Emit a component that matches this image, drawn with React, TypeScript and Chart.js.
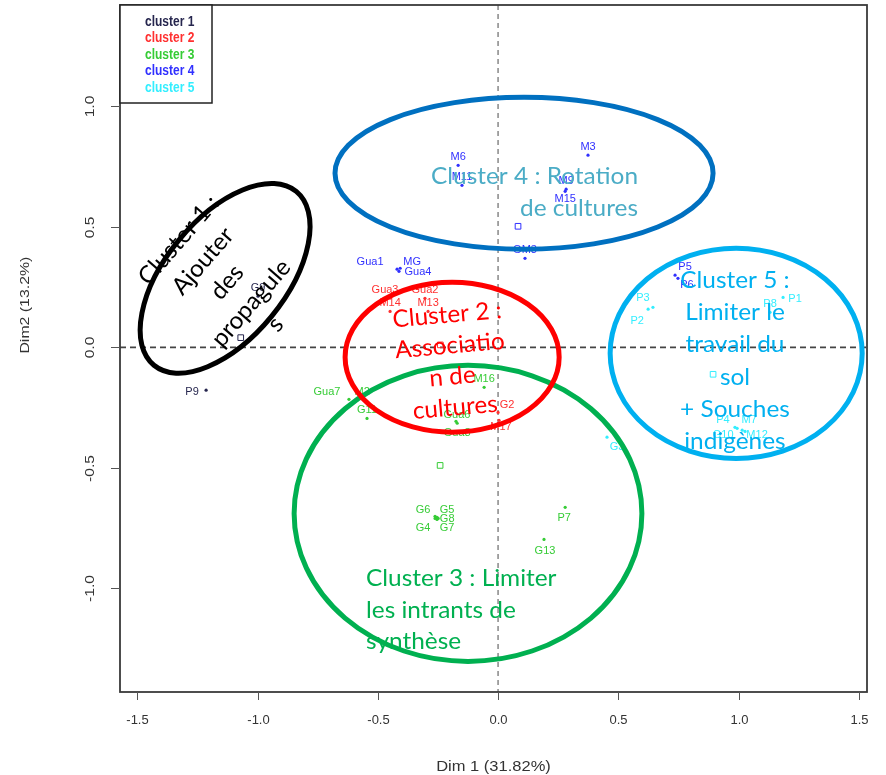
import React, { useEffect, useRef } from "react";
import { Chart, registerables } from "chart.js";

Chart.register(...registerables);

// ---------------- data ----------------
const CLUSTER_NAMES = ["cluster 1", "cluster 2", "cluster 3", "cluster 4", "cluster 5"];
const CLUSTER_COLORS = ["#26264e", "#ff3030", "#36cc36", "#3030ff", "#33eeff"];

const C1_LABELS = ["P9", "G9"];
const C1_X = [-1.214, -0.998];
const C1_Y = [-0.178, 0.212];

const C2_LABELS = ["Gua3", "Gua2", "M14", "M13", "G2", "M17"];
const C2_X = [-0.47, -0.304, -0.449, -0.291, 0.0, 0.004];
const C2_Y = [0.203, 0.203, 0.149, 0.149, -0.27, -0.303];

const C3_LABELS = ["Gua7", "M2", "G11", "M16", "Gua6", "Gua8", "G6", "G5", "G8", "G4", "G7", "P7", "G13"];
const C3_X = [-0.62, -0.586, -0.545, -0.058, -0.175, -0.17, -0.262, -0.254, -0.249, -0.262, -0.254, 0.279, 0.191];
const C3_Y = [-0.216, -0.22, -0.295, -0.166, -0.307, -0.315, -0.701, -0.705, -0.71, -0.71, -0.714, -0.664, -0.797];

const C4_LABELS = ["M6", "M11", "M3", "M9", "M15", "GM3", "Gua1", "MG", "Gua4", "P5", "P6"];
const C4_X = [-0.166, -0.15, 0.374, 0.283, 0.279, 0.112, -0.42, -0.407, -0.412, 0.736, 0.748];
const C4_Y = [0.755, 0.672, 0.797, 0.656, 0.647, 0.369, 0.324, 0.328, 0.315, 0.299, 0.286];

const C5_LABELS = ["P3", "P2", "P1", "P8", "P4", "M7", "G10", "M12", "G3"];
const C5_X = [0.644, 0.624, 1.185, 1.131, 0.985, 0.994, 1.015, 1.027, 0.453];
const C5_Y = [0.166, 0.158, 0.207, 0.145, -0.332, -0.336, -0.344, -0.349, -0.373];

const CENTROID_X = [-1.07, -0.24, -0.241, 0.083, 0.894];
const CENTROID_Y = [0.04, 0.01, -0.49, 0.502, -0.112];

const X_MIN = -1.572;
const X_MAX = 1.534;
const Y_MIN = -1.43;
const Y_MAX = 1.42;
const X_TICKS = [-1.5, -1, -0.5, 0, 0.5, 1, 1.5];
const X_TICK_LABELS = ["-1.5", "-1.0", "-0.5", "0.0", "0.5", "1.0", "1.5"];
const Y_TICKS = [-1, -0.5, 0, 0.5, 1];
const Y_TICK_LABELS = ["-1.0", "-0.5", "0.0", "0.5", "1.0"];
const X_TITLE = "Dim 1 (31.82%)";
const Y_TITLE = "Dim2 (13.2%)";

// hand-drawn cluster ellipses (data units)
const ELLIPSE_CX = [-1.135, -0.191, -0.125, 0.108, 0.99];
const ELLIPSE_CY = [0.286, -0.041, -0.689, 0.722, -0.025];
const ELLIPSE_RX = [0.467, 0.445, 0.723, 0.786, 0.524];
const ELLIPSE_RY = [0.249, 0.311, 0.614, 0.315, 0.436];
const ELLIPSE_ANGLE = [-50.7, 0, 0, 0, 0];

// annotation notes
const NOTE_1 = ["Cluster 1 :", "Ajouter", "des", "propagule", "s"];
const NOTE_2 = ["Cluster 2 :", "Associatio", "n de", "cultures"];
const NOTE_3 = ["Cluster 3 : Limiter", "les intrants de", "synthèse"];
const NOTE_4 = ["Cluster 4 : Rotation", "de cultures"];
const NOTE_5 = ["Cluster 5 :", "Limiter le", "travail du", "sol", "+ Souches", "indigènes"];
const NOTE_X = [-1.127, -0.195, -0.549, 0.582, 0.985];
const NOTE_Y = [0.27, -0.058, -0.959, 0.71, 0.278];

// ---------------- styles ----------------
const ELLIPSE_COLORS = ["#000000", "#ff0000", "#00b050", "#0070c0", "#00b0f0"];
const NOTE_COLORS = ["#000000", "#ff0000", "#00b050", "#4bacc6", "#00b0f0"];
const NOTE_ALIGN: CanvasTextAlign[] = ["center", "center", "left", "right", "center"];
const NOTE_CENTERED = [true, true, false, false, false];
const NOTE_ANGLE = [-49, -5, 0, 0, 0];
const NOTE_LINE_H = [32, 31, 31.5, 32, 32.2];

const LABEL_OFFSETS: Record<string, [number, number]> = {
  P9: [-14, 2],
  Gua7: [-22, -7],
  M2: [5, -8],
  G6: [-12, -6],
  G5: [10, -7],
  G8: [9, 1],
  G4: [-12, 10],
  G7: [10, 9],
  P7: [-1, 11],
  G13: [1, 12],
  M15: [0, 8],
  Gua1: [-27, -7],
  MG: [12, -6],
  Gua4: [19, 1],
  P5: [10, -8],
  P6: [9, 7],
  P3: [-10, -9],
  P2: [-11, 12],
  P1: [12, 2],
  P4: [-12, -7],
  M7: [12, -8],
  G10: [-19, 5],
  M12: [12, 4],
  G3: [10, 10],
  Gua6: [1, -6],
  Gua8: [0, 10],
  G2: [9, -7],
  M17: [2, 7],
};

const NOTE_FONT = "Lato";
const NOTE_SIZE = 24;

function toPoints(xs: number[], ys: number[]) {
  return xs.map((x, i) => ({ x, y: ys[i] }));
}

const overlayPlugin = {
  id: "overlay",
  beforeDatasetsDraw(chart: any) {
    const { ctx, chartArea: a, scales } = chart;
    const xs = scales.x;
    const ys = scales.y;
    ctx.save();
    ctx.setLineDash([6, 4]);
    ctx.strokeStyle = "#444";
    ctx.lineWidth = 1.8;
    const y0 = ys.getPixelForValue(0);
    ctx.beginPath();
    ctx.moveTo(a.left, y0);
    ctx.lineTo(a.right, y0);
    ctx.stroke();
    ctx.strokeStyle = "#888";
    ctx.lineWidth = 1.5;
    ctx.setLineDash([5, 4]);
    const x0 = xs.getPixelForValue(0);
    ctx.beginPath();
    ctx.moveTo(x0, a.top);
    ctx.lineTo(x0, a.bottom);
    ctx.stroke();
    ctx.restore();
  },
  afterDatasetsDraw(chart: any) {
    const { ctx, chartArea: a, scales } = chart;
    const xs = scales.x;
    const ys = scales.y;
    ctx.save();

    // point labels
    ctx.font = "11px 'Liberation Sans', Arial, sans-serif";
    ctx.textAlign = "center";
    ctx.textBaseline = "middle";
    chart.data.datasets.forEach((ds: any, di: number) => {
      if (!ds.pointLabels) return;
      const meta = chart.getDatasetMeta(di);
      ctx.fillStyle = ds.labelColor;
      meta.data.forEach((el: any, i: number) => {
        const name = ds.pointLabels[i];
        const off = LABEL_OFFSETS[name] || [0, -8];
        ctx.fillText(name, el.x + off[0], el.y + off[1]);
      });
    });

    // frame
    ctx.strokeStyle = "#3a3a3a";
    ctx.lineWidth = 1.8;
    ctx.strokeRect(a.left, a.top, a.right - a.left, a.bottom - a.top);

    // ticks
    ctx.strokeStyle = "#555";
    ctx.lineWidth = 1;
    ctx.fillStyle = "#333";
    ctx.font = "13px 'Liberation Sans', Arial, sans-serif";
    X_TICKS.forEach((v, i) => {
      const px = Math.round(xs.getPixelForValue(v)) + 0.5;
      ctx.beginPath();
      ctx.moveTo(px, a.bottom);
      ctx.lineTo(px, a.bottom + 8);
      ctx.stroke();
      ctx.textAlign = "center";
      ctx.textBaseline = "middle";
      ctx.fillText(X_TICK_LABELS[i], px, a.bottom + 28);
    });
    Y_TICKS.forEach((v, i) => {
      const py = Math.round(ys.getPixelForValue(v)) + 0.5;
      ctx.beginPath();
      ctx.moveTo(a.left, py);
      ctx.lineTo(a.left - 9, py);
      ctx.stroke();
      ctx.save();
      ctx.translate(a.left - 30, py);
      ctx.rotate(-Math.PI / 2);
      ctx.scale(1.2, 1);
      ctx.textAlign = "center";
      ctx.textBaseline = "middle";
      ctx.fillText(Y_TICK_LABELS[i], 0, 0);
      ctx.restore();
    });

    // axis titles
    ctx.font = "15px 'Liberation Sans', Arial, sans-serif";
    ctx.textAlign = "center";
    ctx.textBaseline = "middle";
    ctx.fillStyle = "#333";
    ctx.save();
    ctx.translate((a.left + a.right) / 2, a.bottom + 75);
    ctx.scale(1.1, 1);
    ctx.fillText(X_TITLE, 0, 0);
    ctx.restore();
    ctx.save();
    ctx.translate(25, ys.getPixelForValue(0.175));
    ctx.rotate(-Math.PI / 2);
    ctx.font = "13px 'Liberation Sans', Arial, sans-serif";
    ctx.scale(1.22, 1);
    ctx.fillText(Y_TITLE, 0, 0);
    ctx.restore();

    // legend
    ctx.strokeStyle = "#222";
    ctx.lineWidth = 1.5;
    ctx.fillStyle = "#fff";
    ctx.fillRect(a.left, a.top, 92, 98);
    ctx.strokeRect(a.left, a.top, 92, 98);
    ctx.font = "bold 12px 'Liberation Sans', Arial, sans-serif";
    ctx.textAlign = "left";
    ctx.textBaseline = "middle";
    CLUSTER_NAMES.forEach((n, i) => {
      ctx.fillStyle = CLUSTER_COLORS[i];
      ctx.save();
      ctx.translate(a.left + 25, a.top + 17 + i * 16.5);
      ctx.scale(1, 1.15);
      ctx.fillText(n, 0, 0);
      ctx.restore();
    });

    // ellipses
    const order = [2, 3, 4, 0, 1];
    order.forEach((k) => {
      const cx = xs.getPixelForValue(ELLIPSE_CX[k]);
      const cy = ys.getPixelForValue(ELLIPSE_CY[k]);
      const rx = Math.abs(xs.getPixelForValue(ELLIPSE_CX[k] + ELLIPSE_RX[k]) - cx);
      const ry = Math.abs(ys.getPixelForValue(ELLIPSE_CY[k] + ELLIPSE_RY[k]) - cy);
      ctx.beginPath();
      ctx.ellipse(cx, cy, rx, ry, (ELLIPSE_ANGLE[k] * Math.PI) / 180, 0, Math.PI * 2);
      ctx.strokeStyle = ELLIPSE_COLORS[k];
      ctx.lineWidth = 5;
      ctx.stroke();
    });

    // notes
    ctx.font = `${NOTE_SIZE}px ${NOTE_FONT}, 'Open Sans', sans-serif`;
    const squeeze = 207 / ctx.measureText("Cluster 4 : Rotation").width;
    const notes = [NOTE_1, NOTE_2, NOTE_3, NOTE_4, NOTE_5];
    notes.forEach((lines, k) => {
      const px = xs.getPixelForValue(NOTE_X[k]);
      const py = ys.getPixelForValue(NOTE_Y[k]);
      ctx.save();
      ctx.translate(px, py);
      ctx.rotate((NOTE_ANGLE[k] * Math.PI) / 180);
      ctx.scale(squeeze, 1);
      ctx.fillStyle = NOTE_COLORS[k];
      ctx.textAlign = NOTE_ALIGN[k];
      ctx.textBaseline = "middle";
      const lh = NOTE_LINE_H[k];
      const start = NOTE_CENTERED[k] ? -((lines.length - 1) / 2) * lh : 0;
      lines.forEach((l, i) => ctx.fillText(l, 0, start + i * lh));
      ctx.restore();
    });

    ctx.restore();
  },
};

export default function App() {
  const ref = useRef<HTMLCanvasElement | null>(null);
  useEffect(() => {
    document.body.style.margin = "0";
    const canvas = ref.current;
    if (!canvas) return;
    const groups = [
      [C1_LABELS, C1_X, C1_Y],
      [C2_LABELS, C2_X, C2_Y],
      [C3_LABELS, C3_X, C3_Y],
      [C4_LABELS, C4_X, C4_Y],
      [C5_LABELS, C5_X, C5_Y],
    ] as [string[], number[], number[]][];
    const datasets: any[] = groups.map(([labels, xs, ys], i) => ({
      label: CLUSTER_NAMES[i],
      data: toPoints(xs, ys),
      pointLabels: labels,
      labelColor: CLUSTER_COLORS[i],
      pointRadius: 1.6,
      pointBackgroundColor: CLUSTER_COLORS[i],
      pointBorderWidth: 0,
      showLine: false,
    }));
    datasets.push({
      label: "centres",
      data: toPoints(CENTROID_X, CENTROID_Y),
      pointStyle: "rect",
      pointRadius: 4,
      pointBackgroundColor: "rgba(255,255,255,0)",
      pointBorderColor: CLUSTER_COLORS,
      pointBorderWidth: 1,
      showLine: false,
    });
    const chart = new Chart(canvas, {
      type: "scatter",
      data: { datasets },
      options: {
        responsive: false,
        animation: false,
        devicePixelRatio: 1,
        layout: { padding: { left: 120, right: 19, top: 5, bottom: 83 } },
        plugins: { legend: { display: false }, tooltip: { enabled: false } },
        scales: {
          x: { type: "linear", min: X_MIN, max: X_MAX, display: false },
          y: { type: "linear", min: Y_MIN, max: Y_MAX, display: false },
        },
      },
      plugins: [overlayPlugin],
    } as any);
    return () => chart.destroy();
  }, []);
  return (
    <div style={{ width: 886, height: 775, background: "#fff" }}>
      <canvas ref={ref} width={886} height={775} style={{ display: "block" }} />
    </div>
  );
}
